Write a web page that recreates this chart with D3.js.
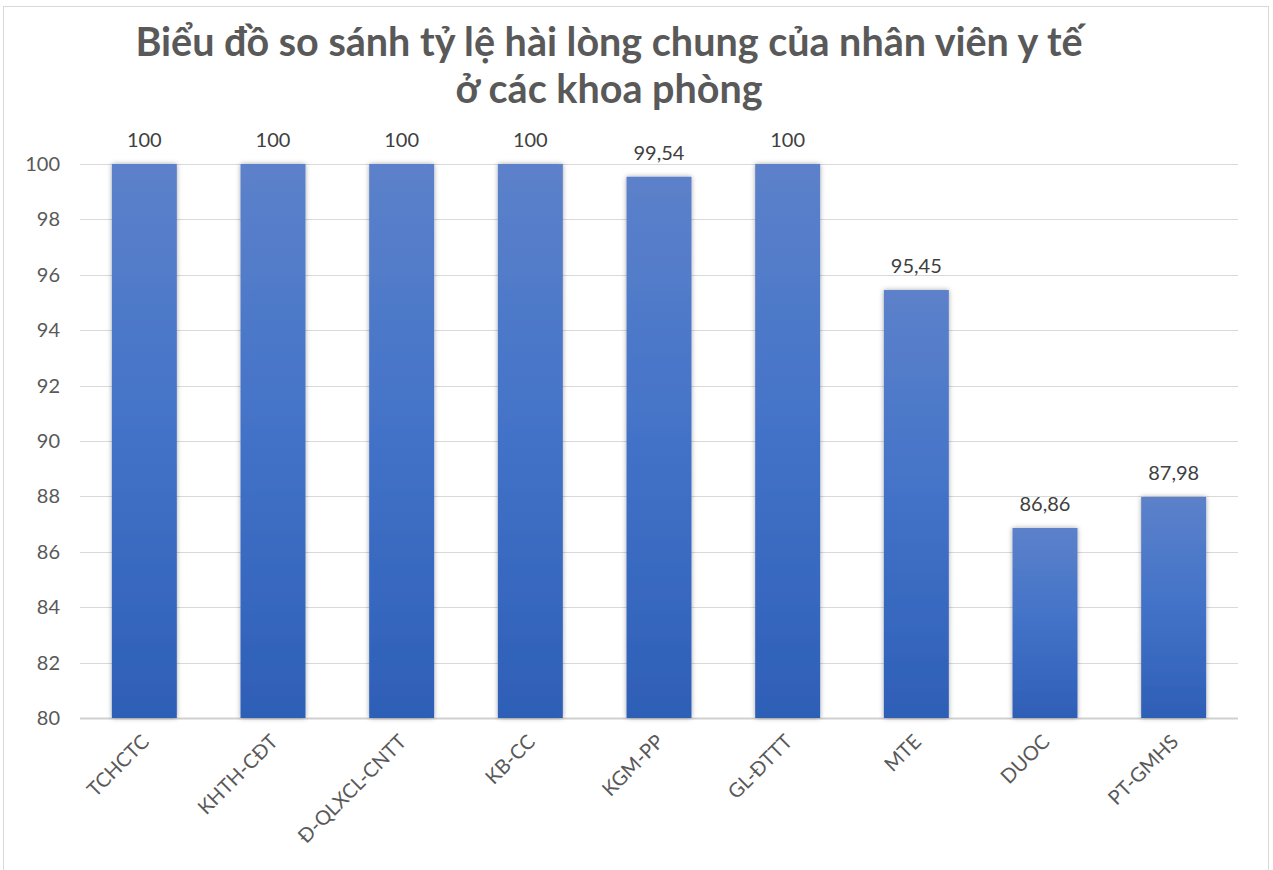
<!DOCTYPE html>
<html>
<head>
<meta charset="utf-8">
<script src="https://cdn.jsdelivr.net/npm/d3@7"></script>
<style>
  body { margin: 0; background: #fff; }
  svg { display: block; font-family: Lato, "Open Sans", sans-serif; }
</style>
</head>
<body>
<div id="chart"></div>
<script>
// du lieu
const categories = ["TCHCTC", "KHTH-CĐT", "Đ-QLXCL-CNTT", "KB-CC", "KGM-PP", "GL-ĐTTT", "MTE", "DUOC", "PT-GMHS"]
const values = [100, 100, 100, 100, 99.54, 100, 95.45, 86.86, 87.98]
const yTicks = [80, 82, 84, 86, 88, 90, 92, 94, 96, 98, 100]
const titleLines = ["Biểu đồ so sánh tỷ lệ hài lòng chung của nhân viên y tế", "ở các khoa phòng"]

const W = 1273, H = 870
const m = { left: 80, right: 35, top: 164, bottom: 152 }
const FONT = "Lato, 'Open Sans', sans-serif"

const svg = d3.select("#chart").append("svg").attr("width", W).attr("height", H)

// khung ngoai
svg.append("rect")
  .attr("x", 3.5).attr("y", 6.5).attr("width", 1265).attr("height", 870)
  .attr("fill", "#fff").attr("stroke", "#d9d9d9").attr("stroke-width", 1)

const defs = svg.append("defs")
const grad = defs.append("linearGradient").attr("id", "barGrad")
  .attr("x1", 0).attr("y1", 0).attr("x2", 0).attr("y2", 1)
grad.append("stop").attr("offset", "0%").attr("stop-color", "#5c81ca")
grad.append("stop").attr("offset", "50%").attr("stop-color", "#4272c8")
grad.append("stop").attr("offset", "100%").attr("stop-color", "#2e5fb7")

const shadow = defs.append("filter").attr("id", "shadow")
  .attr("x", "-20%").attr("y", "-5%").attr("width", "140%").attr("height", "110%")
shadow.append("feDropShadow").attr("dx", 0).attr("dy", 0).attr("stdDeviation", 2.5)
  .attr("flood-color", "#000").attr("flood-opacity", 0.35)

const x = d3.scaleBand().domain(categories).range([m.left, W - m.right]).paddingInner(0.495).paddingOuter(0.2475)
const y = d3.scaleLinear().domain([80, 100]).range([H - m.bottom, m.top])

// luoi
svg.append("g").selectAll("line").data(yTicks).join("line")
  .attr("x1", m.left).attr("x2", W - m.right)
  .attr("y1", d => Math.round(y(d)) + 0.5).attr("y2", d => Math.round(y(d)) + 0.5)
  .attr("stroke", d => d === 80 ? "#d0d0d0" : "#d9d9d9")
  .attr("stroke-width", d => d === 80 ? 2 : 1)

// truc y
const yAxis = svg.append("g").attr("transform", `translate(${m.left},0)`)
  .call(d3.axisLeft(y).tickValues(yTicks).tickSize(0).tickPadding(20))
  .attr("font-family", FONT)
yAxis.select(".domain").remove()
yAxis.selectAll("text").attr("fill", "#595959").style("font-size", "20px")

// cot
svg.append("g").selectAll("rect").data(values).join("rect")
  .attr("x", (d, i) => x(categories[i]))
  .attr("y", d => y(d))
  .attr("width", x.bandwidth())
  .attr("height", d => y(80) - y(d))
  .attr("fill", "url(#barGrad)")
  .attr("filter", "url(#shadow)")

// nhan gia tri
svg.append("g").selectAll("text").data(values).join("text")
  .attr("x", (d, i) => x(categories[i]) + x.bandwidth() / 2)
  .attr("y", d => y(d) - 17)
  .attr("text-anchor", "middle")
  .attr("fill", "#404040")
  .style("font-size", "20px")
  .text(d => String(d).replace(".", ","))

// truc x
const xAxis = svg.append("g").attr("transform", `translate(0,${H - m.bottom})`)
  .call(d3.axisBottom(x).tickSize(0).tickPadding(0))
  .attr("font-family", FONT)
xAxis.select(".domain").remove()
xAxis.selectAll("text")
  .attr("fill", "#595959")
  .style("font-size", "20px")
  .attr("text-anchor", "end")
  .attr("dy", 0)
  .attr("transform", "translate(6,25) rotate(-45)")

// tieu de
svg.append("g").selectAll("text").data(titleLines).join("text")
  .attr("x", 609)
  .attr("y", (d, i) => 56 + i * 47)
  .attr("text-anchor", "middle")
  .attr("fill", "#595959")
  .style("font-size", "39.5px")
  .style("font-weight", "bold")
  .text(d => d)
</script>
</body>
</html>
